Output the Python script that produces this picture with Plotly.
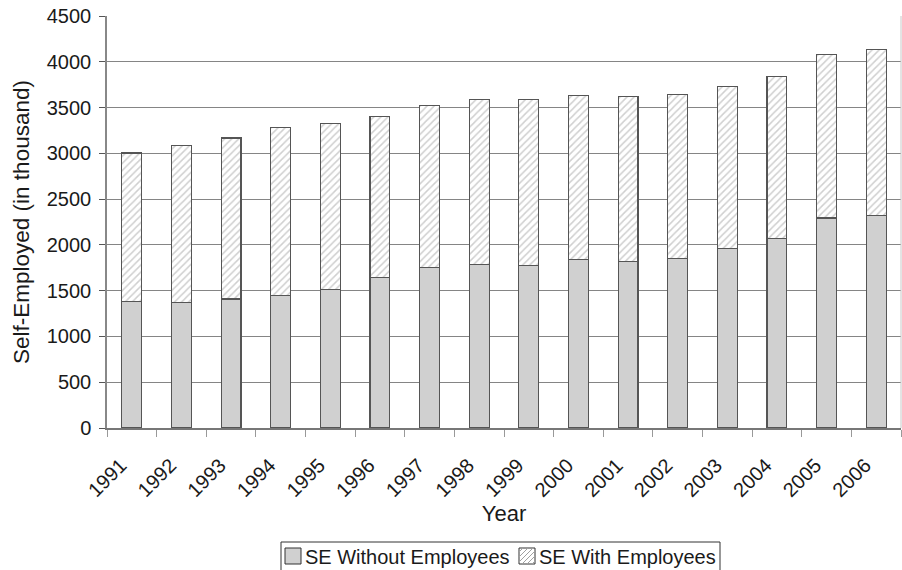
import plotly.graph_objects as go

years = [str(y) for y in range(1991, 2007)]
se_without = [1380, 1373, 1409, 1445, 1515, 1642, 1756, 1789, 1778, 1840, 1818, 1855, 1960, 2070, 2293, 2321]
se_with = [1624, 1711, 1759, 1836, 1814, 1763, 1763, 1799, 1810, 1792, 1800, 1788, 1770, 1767, 1788, 1815]
y_ticks = list(range(0, 4501, 500))
series_names = ["SE Without Employees", "SE With Employees"]

FONT = "Liberation Sans, Arial, sans-serif"
W, H = 902, 570
M_L, M_R, M_T, M_B = 107, 1, 16, 142
outline = dict(color="#555555", width=1.2)
solid_fill = "#d0d0d0"
hatch_color = "#a0a0a0"

fig = go.Figure()
fig.add_trace(go.Bar(
    x=years, y=se_without, name=series_names[0],
    marker=dict(color=solid_fill, line=outline),
))
fig.add_trace(go.Bar(
    x=years, y=se_with, name=series_names[1],
    marker=dict(
        color="white", line=outline,
        pattern=dict(shape="/", fgcolor=hatch_color, bgcolor="white", size=5, solidity=0.3),
    ),
))

fig.update_layout(
    barmode="stack",
    bargap=0.6,
    width=W, height=H,
    margin=dict(l=M_L, r=M_R, t=M_T, b=M_B),
    plot_bgcolor="white",
    paper_bgcolor="white",
    font=dict(family=FONT, size=20, color="#1a1a1a"),
    showlegend=False,
    xaxis=dict(
        title=dict(text="Year", font=dict(size=22), standoff=2),
        tickangle=-45,
        ticklabelstandoff=16,
        ticklabelshift=-11,
        showline=True, linecolor="#777777", linewidth=1.5,
        ticks="outside", ticklen=7, tickcolor="#999999",
        tickson="boundaries",
        showgrid=False,
    ),
    yaxis=dict(
        title=dict(text="Self-Employed (in thousand)", font=dict(size=22.5), standoff=11),
        range=[0, 4500],
        tickvals=y_ticks,
        ticklabelstandoff=4,
        showline=True, linecolor="#888888", linewidth=1.5,
        ticks="outside", ticklen=6, tickcolor="#555555",
        showgrid=True, gridcolor="#858585", gridwidth=1.2,
        zeroline=False,
    ),
)

# light frame on the right side of the plot area
fig.add_shape(type="line", xref="paper", yref="paper", x0=1, x1=1, y0=0, y1=1,
              line=dict(color="#c8c8c8", width=1))


# Legend drawn in pixel units, converted to paper coordinates
def px(x):
    return (x - M_L) / (W - M_L - M_R)


def py(y):
    return (H - M_B - y) / (H - M_T - M_B)


shapes = []
# legend frame
shapes.append(dict(type="rect", xref="paper", yref="paper",
                   x0=px(281), x1=px(720), y0=py(542), y1=py(571),
                   line=dict(color="#333333", width=1), fillcolor="white", layer="above"))
# solid swatch
shapes.append(dict(type="rect", xref="paper", yref="paper",
                   x0=px(285), x1=px(301), y0=py(548), y1=py(564),
                   line=dict(color="#333333", width=1), fillcolor=solid_fill, layer="above"))
# hatched swatch
sx0, sx1, sy0, sy1 = 519, 535, 548, 564
side = sx1 - sx0
shapes.append(dict(type="rect", xref="paper", yref="paper",
                   x0=px(sx0), x1=px(sx1), y0=py(sy0), y1=py(sy1),
                   line=dict(color="#333333", width=1), fillcolor="white", layer="above"))
for k in range(4, 2 * side, 5):
    # "/" strokes (lower-left to upper-right) clipped to the swatch
    if k <= side:
        ax, ay = sx0, sy0 + k
        bx, by = sx0 + k, sy0
    else:
        ax, ay = sx0 + k - side, sy1
        bx, by = sx1, sy0 + k - side
    shapes.append(dict(type="line", xref="paper", yref="paper",
                       x0=px(ax), y0=py(ay), x1=px(bx), y1=py(by),
                       line=dict(color=hatch_color, width=1), layer="above"))
fig.update_layout(shapes=fig.layout.shapes + tuple(shapes))

for text, x_left in [(series_names[0], 303), (series_names[1], 537)]:
    fig.add_annotation(xref="paper", yref="paper", x=px(x_left), y=py(556.5),
                       text=text, showarrow=False, xanchor="left", yanchor="middle",
                       font=dict(size=20, family=FONT, color="#1a1a1a"))

fig.write_html("out.html")
